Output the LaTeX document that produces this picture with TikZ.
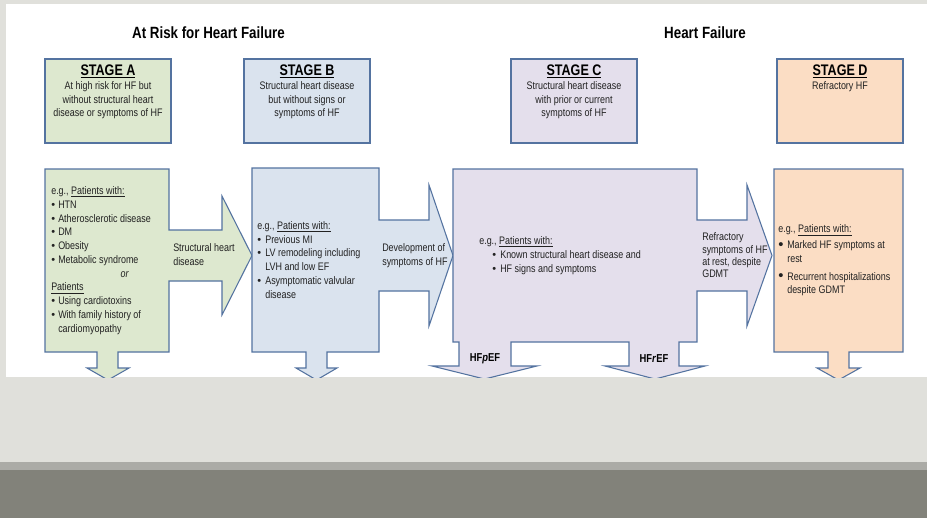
\documentclass[tikz,border=0pt]{standalone}
\usepackage{fontspec}
\setmainfont{Liberation Sans}[FakeStretch=0.82]
\newfontfamily\bulfont{Liberation Sans}
\definecolor{afill}{RGB}{221,232,207}
\definecolor{bfill}{RGB}{218,227,238}
\definecolor{cfill}{RGB}{228,223,236}
\definecolor{dfill}{RGB}{251,221,196}
\definecolor{bordc}{RGB}{84,115,160}
\definecolor{txtc}{RGB}{34,34,34}
\definecolor{bgc}{RGB}{224,224,219}
\definecolor{bandc}{RGB}{171,171,166}
\definecolor{darkc}{RGB}{130,130,122}
\newcommand\mybul[1]{\makebox[#1][l]{\bulfont\textbullet}}
\newcommand\mybigbul[1]{\makebox[#1][l]{\bulfont\raisebox{-0.3pt}{\scalebox{1.35}{\textbullet}}}}
\newcommand\myind[1]{\makebox[#1]{}}
\begin{document}
\begin{tikzpicture}[x=0.75pt,y=-0.75pt,
  shp/.style={draw=bordc, line width=0.8pt, line join=miter},
  sbox/.style={draw=bordc, line width=0.8pt, minimum width=94.5pt, minimum height=63pt, inner sep=0pt},
  body/.style={inner sep=0pt, align=left, text=txtc, font=\fontsize{8.2}{10.3}\selectfont},
  desc/.style={inner sep=0pt, align=center, text=txtc, font=\fontsize{8.2}{10.1}\selectfont},
  stg/.style={inner sep=0pt, text=black, font=\bfseries\fontsize{11.5}{13}\selectfont},
  ttl/.style={inner sep=0pt, text=black, font=\bfseries\fontsize{12.2}{14}\selectfont},
  hfl/.style={inner sep=0pt, text=black, font=\bfseries\fontsize{8.6}{10}\selectfont},
]
\useasboundingbox (0,0) rectangle (927,518);
% background
\fill[bgc] (0,0) rectangle (927,518);
\fill[white] (6,4) rectangle (927,377);
\fill[bandc] (0,462) rectangle (927,470);
\fill[darkc] (0,470) rectangle (927,518);

% titles
\node[ttl] (t1) at (208.5,33) {At Risk for Heart Failure};
\node[ttl] (t2) at (705,33) {Heart Failure};

% stage boxes
\node[sbox, fill=afill] (sa) at (108,101) {};
\node[sbox, fill=bfill] (sb) at (307,101) {};
\node[sbox, fill=cfill] (sc) at (574,101) {};
\node[sbox, fill=dfill] (sd) at (840,101) {};

\node[stg] (sah) at (108,71.5) {\underline{STAGE A}};
\node[stg] (sbh) at (307,71.5) {\underline{STAGE B}};
\node[stg] (sch) at (574,71.5) {\underline{STAGE C}};
\node[stg] (sdh) at (840,71.5) {\underline{STAGE D}};

\node[desc] (sad) at (108,100.5) {At high risk for HF but\\without structural heart\\disease or symptoms of HF};
\node[desc] (sbd) at (307,100.5) {Structural heart disease\\but without signs or\\symptoms of HF};
\node[desc] (scd) at (574,100.5) {Structural heart disease\\with prior or current\\symptoms of HF};
\node[desc] (sdd) at (840,87) {Refractory HF};

\begin{scope}
\clip (6,4) rectangle (927,377);
% Stage A shape
\draw[shp, fill=afill] (45,169) -- (169,169) -- (169,230) -- (222,230) -- (222,196) -- (252,255.5)
  -- (222,315) -- (222,281) -- (169,281) -- (169,352) -- (118,352) -- (118,368) -- (129,368)
  -- (108,380) -- (87,368) -- (97,368) -- (97,352) -- (45,352) -- cycle;
% Stage B shape
\draw[shp, fill=bfill] (252,168) -- (379,168) -- (379,220) -- (429,220) -- (429,185) -- (453,255.5)
  -- (429,326) -- (429,291) -- (379,291) -- (379,352) -- (327,352) -- (327,368) -- (337,368)
  -- (316.5,380) -- (296,368) -- (306,368) -- (306,352) -- (252,352) -- cycle;
% Stage C shape
\draw[shp, fill=cfill] (453,169) -- (697,169) -- (697,220) -- (747,220) -- (747,185) -- (772,255.5)
  -- (747,326) -- (747,291) -- (697,291) -- (697,342) -- (679,342) -- (679,366) -- (705,366)
  -- (655,379) -- (605,366) -- (629,366) -- (629,342) -- (511,342) -- (511,366) -- (537,366)
  -- (484.5,379) -- (432,366) -- (459,366) -- (459,342) -- (453,342) -- cycle;
% Stage D shape
\draw[shp, fill=dfill] (774,169) -- (903,169) -- (903,352) -- (849,352) -- (849,368) -- (860,368)
  -- (838.5,380) -- (817,368) -- (828,368) -- (828,352) -- (774,352) -- cycle;
\end{scope}

% body texts
\node[body, anchor=west] (at) at (51,260.5) {e.g., \underline{Patients with:}\\
\mybul{5.25pt}HTN\\
\mybul{5.25pt}Atherosclerotic disease\\
\mybul{5.25pt}DM\\
\mybul{5.25pt}Obesity\\
\mybul{5.25pt}Metabolic syndrome\\
\myind{52pt}\textit{or}\\
\underline{Patients}\\
\mybul{5.25pt}Using cardiotoxins\\
\mybul{5.25pt}With family history of\\
\myind{5.25pt}cardiomyopathy};

\node[body, anchor=west] (al) at (173,254.5) {Structural heart\\disease};

\node[body, anchor=west, font=\fontsize{8.2}{10.4}\selectfont] (bt) at (257,260) {e.g., \underline{Patients with:}\\
\mybul{6pt}Previous MI\\
\mybul{6pt}LV remodeling including\\
\myind{6pt}LVH and low EF\\
\mybul{6pt}Asymptomatic valvular\\
\myind{6pt}disease};

\node[body, anchor=west, font=\fontsize{8.2}{10.5}\selectfont] (bl) at (382,256) {Development of\\symptoms of HF};

\node[body, anchor=west] (ct) at (479,255.5) {e.g., \underline{Patients with:}\\
\myind{9.75pt}\mybul{6pt}Known structural heart disease and\\
\myind{9.75pt}\mybul{6pt}HF signs and symptoms};

\node[body, anchor=west, font=\fontsize{8.2}{9.25}\selectfont] (cl) at (702,255.5) {Refractory\\symptoms of HF\\at rest, despite\\GDMT};

\node[body, anchor=west, font=\fontsize{8.2}{10.1}\selectfont] (dt) at (778,260.5) {e.g., \underline{Patients with:}\\[1.9pt]
\mybigbul{6.75pt}Marked HF symptoms at\\
\myind{6.75pt}rest\\[3.4pt]
\mybigbul{6.75pt}Recurrent hospitalizations\\
\myind{6.75pt}despite GDMT};

\node[hfl] (hfp) at (485,359) {HF\textit{p}EF};
\node[hfl] (hfr) at (654,359) {HF\textit{r}EF};
\end{tikzpicture}
\end{document}
